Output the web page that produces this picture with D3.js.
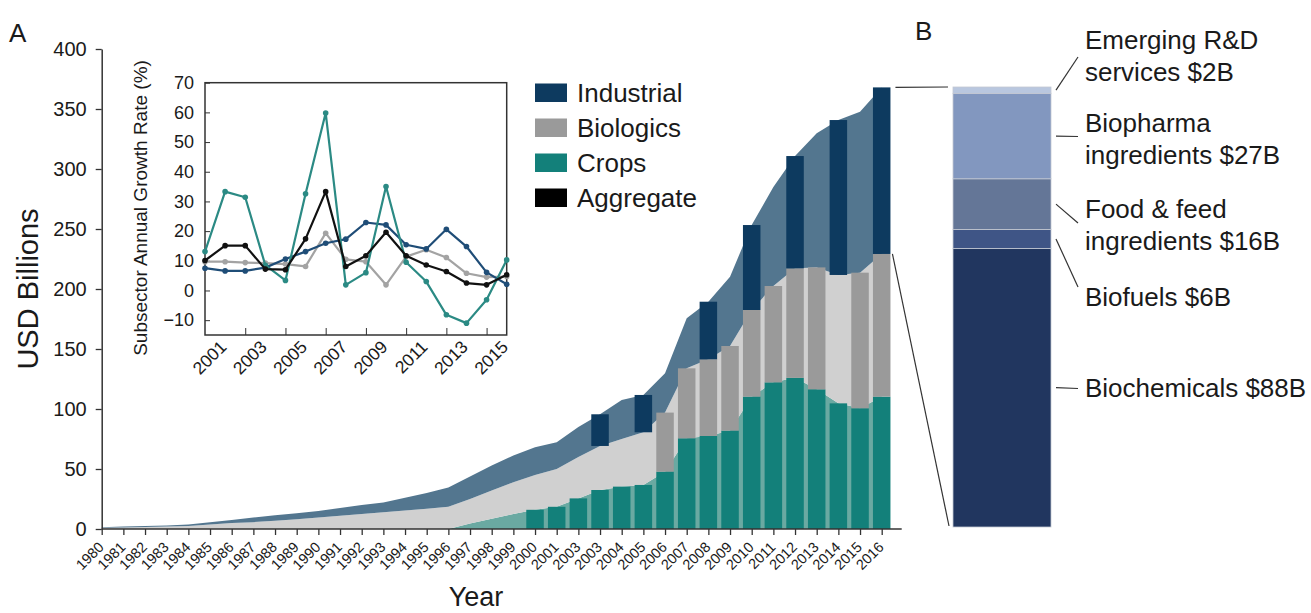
<!DOCTYPE html>
<html>
<head>
<meta charset="utf-8">
<script src="https://cdn.jsdelivr.net/npm/d3@7/dist/d3.min.js"></script>
<style>
  body{margin:0;background:#fff;}
  svg{display:block;font-family:"Liberation Sans",Arial,Helvetica,sans-serif;}
</style>
</head>
<body>
<svg id="Chart" width="1311" height="613"></svg>
<script>
// main panel A: stacked revenue (USD billions)
const Years = [1980,1981,1982,1983,1984,1985,1986,1987,1988,1989,1990,1991,1992,1993,1994,1995,1996,1997,1998,
  1999,2000,2001,2002,2003,2004,2005,2006,2007,2008,2009,2010,2011,2012,2013,2014,2015,2016];
// labels as printed in the figure (2002 is printed as "2003")
const YearLabels = ["1980","1981","1982","1983","1984","1985","1986","1987","1988","1989","1990","1991","1992",
  "1993","1994","1995","1996","1997","1998","1999","2000","2001","2003","2003","2004","2005","2006","2007",
  "2008","2009","2010","2011","2012","2013","2014","2015","2016"];
const Crops = [0,0,0,0,0,0,0,0,0,0,0,0,0,0,0,0,0,4.5,8.5,12.5,16,18.5,25.5,32.5,35.3,36.7,47.8,75.6,77.5,82,
  110.3,122.2,126,116.4,104.7,100.6,110.3];
const Biologics = [1,1.3,1.7,2,2.5,3.7,4.9,5.7,6.8,8.2,9.6,11,12.6,14,15.4,16.8,18.5,20.6,23.5,26.5,29,31.5,
  34.5,36.7,39.7,43.9,49.2,58.3,63.9,70.5,72.2,80.3,91.2,101.6,107,113,118.9];
const Industrial = [0.5,0.7,0.8,1,1.3,2,2.7,3.9,4.7,5,5.5,6.4,7.3,8,10.6,13.3,16.1,18.6,20.9,22.2,23.2,22.3,
  25,26.4,32.5,31.1,32.7,41.7,48,57.8,70.8,82.5,93.6,111.7,129.1,134.2,138.8];
const CropBarYears = [2000,2001,2002,2003,2004,2005,2006,2007,2008,2009,2010,2011,2012,2013,2014,2015,2016];
const BiologicBarYears = [2006,2007,2008,2009,2010,2011,2012,2013,2015,2016];
const IndustrialBarYears = [2003,2005,2008,2010,2012,2014,2016];
const YTicks = [0,50,100,150,200,250,300,350,400];

// inset: subsector annual growth rate (%)
const InsetYears = [2000,2001,2002,2003,2004,2005,2006,2007,2008,2009,2010,2011,2012,2013,2014,2015];
const InsetLabelYears = [2001,2003,2005,2007,2009,2011,2013,2015];
const InsetTickYears = [2002,2004,2006,2008,2010,2012,2014];
const InsetYTicks = [-10,0,10,20,30,40,50,60,70];
const GrowthIndustrial = [7.5,6.6,6.6,7.7,10.6,13.1,15.9,17.3,22.9,22.1,15.4,14,20.6,14.8,6.1,2.1];
const GrowthBiologics = [9.7,9.7,9.4,9.2,8.9,8.1,19.3,10.5,9.7,1.9,11.4,13.7,11.1,5.8,4.5,4.7];
const GrowthCrops = [13.1,33.3,31.4,8.5,3.4,32.6,59.8,1.9,6,35,9.5,3,-8.2,-11,-3.1,10.3];
const GrowthAggregate = [10.1,15.1,15.1,7.2,7,17.4,33.3,8.1,11.7,19.6,11.7,8.6,6.4,2.5,1.9,5.3];
const LegendNames = ["Industrial","Biologics","Crops","Aggregate"];

// panel B: 2016 industrial breakdown, bottom to top
const SegmentNames = [["Biochemicals $88B"],["Biofuels $6B"],["Food & feed","ingredients $16B"],
  ["Biopharma","ingredients $27B"],["Emerging R&D","services $2B"]];
const SegmentValues = [88,6,16,27,2];

const Font = "Liberation Sans, Arial, Helvetica, sans-serif";
const TextColor = "#1a1a1a";
const AxisColor = "#333";
const AreaColors = {Crops:"#6aa9a2", Biologics:"#d0d0d0", Industrial:"#53768f"};
const BarColors = {Crops:"#13807a", Biologics:"#9a9a9a", Industrial:"#0d3a5f"};
const LineColors = {Industrial:"#1f4d77", Biologics:"#a3a3a3", Crops:"#2b8a84", Aggregate:"#111"};
const SegmentColors = ["#21365f","#3f5586","#647697","#8297bf","#b9c7df"];
const BarYears = {Crops:CropBarYears, Biologics:BiologicBarYears, Industrial:IndustrialBarYears};
const BarWidth = 17.5;

const Svg = d3.select("#Chart");

const X = d3.scaleLinear().domain([1980,2016]).range([101.7,881.7]);
const Y = d3.scaleLinear().domain([0,400]).range([529,49]);

const Table = Years.map((Year,Index)=>({Year, Crops:Crops[Index], Biologics:Biologics[Index], Industrial:Industrial[Index]}));
const Stack = d3.stack().keys(["Crops","Biologics","Industrial"])(Table);

const Area = d3.area()
  .x(d=>X(d.data.Year))
  .y0(d=>Y(d[0]))
  .y1(d=>Y(d[1]));

Svg.append("g")
  .selectAll("path")
  .data(Stack)
  .join("path")
  .attr("fill",s=>AreaColors[s.key])
  .attr("d",Area);

Svg.append("g")
  .selectAll("g")
  .data(Stack)
  .join("g")
  .attr("fill",s=>BarColors[s.key])
  .selectAll("rect")
  .data(s=>s.filter(d=>BarYears[s.key].includes(d.data.Year)))
  .join("rect")
  .attr("x",d=>X(d.data.Year)-BarWidth/2)
  .attr("width",BarWidth)
  .attr("y",d=>Y(d[1]))
  .attr("height",d=>Y(d[0])-Y(d[1]));

// axes
const XAxisG = Svg.append("g")
  .attr("transform",`translate(0,${Y(0)})`)
  .attr("color",AxisColor)
  .call(d3.axisBottom(X).tickValues(Years).tickSize(6).tickFormat((d,i)=>YearLabels[i]))
  .call(g=>g.select(".domain").remove());
XAxisG.selectAll("line").attr("stroke-width",1.3);
XAxisG.selectAll("text")
  .attr("font-size",14.5).attr("font-family",Font).attr("fill",TextColor)
  .attr("text-anchor","end")
  .attr("x",0).attr("y",0).attr("dy",0)
  .attr("transform","translate(2.5,19) rotate(-45)");
XAxisG.append("line")
  .attr("x1",X(1980)).attr("x2",X(2016)+20)
  .attr("stroke",AxisColor).attr("stroke-width",1.5);

const YAxisG = Svg.append("g")
  .attr("transform",`translate(${X(1980)},0)`)
  .attr("color",AxisColor)
  .call(d3.axisLeft(Y).tickValues(YTicks).tickSize(6).tickSizeOuter(0).tickPadding(9));
YAxisG.select(".domain").attr("stroke-width",1.5);
YAxisG.selectAll("line").attr("stroke-width",1.3);
YAxisG.selectAll("text").attr("font-size",20).attr("font-family",Font).attr("fill",TextColor);

Svg.append("text")
  .attr("transform",`translate(38,${(Y(0)+Y(400))/2}) rotate(-90)`)
  .attr("text-anchor","middle").attr("font-size",29).attr("fill",TextColor)
  .text("USD Billions");
Svg.append("text")
  .attr("x",476).attr("y",606)
  .attr("text-anchor","middle").attr("font-size",27).attr("fill",TextColor)
  .text("Year");
Svg.append("text").attr("x",9).attr("y",42).attr("font-size",26).attr("fill",TextColor).text("A");
Svg.append("text").attr("x",915).attr("y",40).attr("font-size",26).attr("fill",TextColor).text("B");

// legend
const LegendColors = [BarColors.Industrial,BarColors.Biologics,BarColors.Crops,"#000"];
const Legend = Svg.append("g")
  .selectAll("g")
  .data(LegendNames)
  .join("g")
  .attr("transform",(_,i)=>`translate(535,${83.5+i*35})`);
Legend.append("rect").attr("width",32).attr("height",18.5).attr("fill",(_,i)=>LegendColors[i]);
Legend.append("text").attr("x",42).attr("y",18).attr("font-size",26).attr("fill",TextColor).text(d=>d);

// inset chart
const IX = d3.scaleLinear().domain([2000,2015]).range([205,506.7]);
const IY = d3.scaleLinear().domain([-15,70]).range([335,82.7]);

Svg.append("rect")
  .attr("x",IX(2000)).attr("y",IY(70))
  .attr("width",IX(2015)-IX(2000)).attr("height",IY(-15)-IY(70))
  .attr("fill","#fff").attr("stroke",AxisColor).attr("stroke-width",1.5);

const IYAxisG = Svg.append("g")
  .attr("transform",`translate(${IX(2000)},0)`)
  .attr("color",AxisColor)
  .call(d3.axisLeft(IY).tickValues(InsetYTicks).tickSize(-5).tickPadding(11))
  .call(g=>g.select(".domain").remove());
IYAxisG.selectAll("text").attr("font-size",18).attr("font-family",Font).attr("fill",TextColor);

Svg.append("g")
  .attr("transform",`translate(0,${IY(-15)})`)
  .attr("color",AxisColor)
  .call(d3.axisBottom(IX).tickValues(InsetTickYears).tickSize(-7).tickFormat(""))
  .call(g=>g.select(".domain").remove());

Svg.append("g")
  .selectAll("text")
  .data(InsetLabelYears)
  .join("text")
  .attr("transform",d=>`translate(${IX(d)+2.5},${IY(-15)+13}) rotate(-45)`)
  .attr("text-anchor","end").attr("font-size",17.5).attr("fill",TextColor)
  .text(d=>d);

Svg.append("text")
  .attr("transform",`translate(147,208) rotate(-90)`)
  .attr("text-anchor","middle").attr("font-size",19).attr("fill",TextColor)
  .text("Subsector Annual Growth Rate (%)");

const GrowthSeries = [
  {Key:"Biologics", Values:GrowthBiologics},
  {Key:"Industrial", Values:GrowthIndustrial},
  {Key:"Crops", Values:GrowthCrops},
  {Key:"Aggregate", Values:GrowthAggregate}
];
const GrowthLine = d3.line().x((_,i)=>IX(InsetYears[i])).y(d=>IY(d));
const SeriesG = Svg.append("g")
  .selectAll("g")
  .data(GrowthSeries)
  .join("g")
  .attr("color",s=>LineColors[s.Key]);
SeriesG.append("path")
  .attr("fill","none").attr("stroke","currentColor").attr("stroke-width",2.2)
  .attr("stroke-linejoin","round")
  .attr("d",s=>GrowthLine(s.Values));
SeriesG.selectAll("circle")
  .data(s=>s.Values)
  .join("circle")
  .attr("cx",(_,i)=>IX(InsetYears[i]))
  .attr("cy",d=>IY(d))
  .attr("r",2.8)
  .attr("fill","currentColor");

// panel B
const BY = d3.scaleLinear().domain([0,d3.sum(SegmentValues)]).range([527,87]);
const Ends = d3.cumsum(SegmentValues);
const BLeft = 953, BRight = 1051;
Svg.append("g")
  .selectAll("rect")
  .data(SegmentValues)
  .join("rect")
  .attr("x",BLeft).attr("width",BRight-BLeft)
  .attr("y",(d,i)=>BY(Ends[i]))
  .attr("height",d=>BY(0)-BY(d))
  .attr("fill",(_,i)=>SegmentColors[i])
  .attr("stroke","#c3c8d2").attr("stroke-width",0.8);

// zoom connectors from the 2016 industrial bar
const Last = Table[Table.length-1];
Svg.append("line")
  .attr("x1",X(2016)+BarWidth/2+5).attr("y1",Y(Last.Crops+Last.Biologics+Last.Industrial))
  .attr("x2",BLeft-5).attr("y2",BY(d3.sum(SegmentValues)))
  .attr("stroke",AxisColor).attr("stroke-width",1.2);
Svg.append("line")
  .attr("x1",X(2016)+BarWidth/2+2).attr("y1",Y(Last.Crops+Last.Biologics))
  .attr("x2",BLeft-4).attr("y2",BY(0)-1)
  .attr("stroke",AxisColor).attr("stroke-width",1.2);

// label layout (leader end y, first baseline y), bottom to top
const LabelLayout = [
  {EndY:388.5, TextY:397},
  {EndY:287, TextY:306},
  {EndY:223, TextY:218},
  {EndY:136.5, TextY:132},
  {EndY:57, TextY:49}
];
const Labels = Svg.append("g")
  .selectAll("g")
  .data(SegmentNames)
  .join("g");
Labels.append("line")
  .attr("x1",BRight+5)
  .attr("y1",(_,i)=>BY(Ends[i]-SegmentValues[i]/2))
  .attr("x2",BRight+27)
  .attr("y2",(_,i)=>LabelLayout[i].EndY)
  .attr("stroke",AxisColor).attr("stroke-width",1.2);
Labels.append("text")
  .attr("font-size",26).attr("fill",TextColor)
  .attr("y",(_,i)=>LabelLayout[i].TextY)
  .selectAll("tspan")
  .data(d=>d)
  .join("tspan")
  .attr("x",1085)
  .attr("dy",(_,j)=>j===0?0:32)
  .text(d=>d);
</script>
</body>
</html>
